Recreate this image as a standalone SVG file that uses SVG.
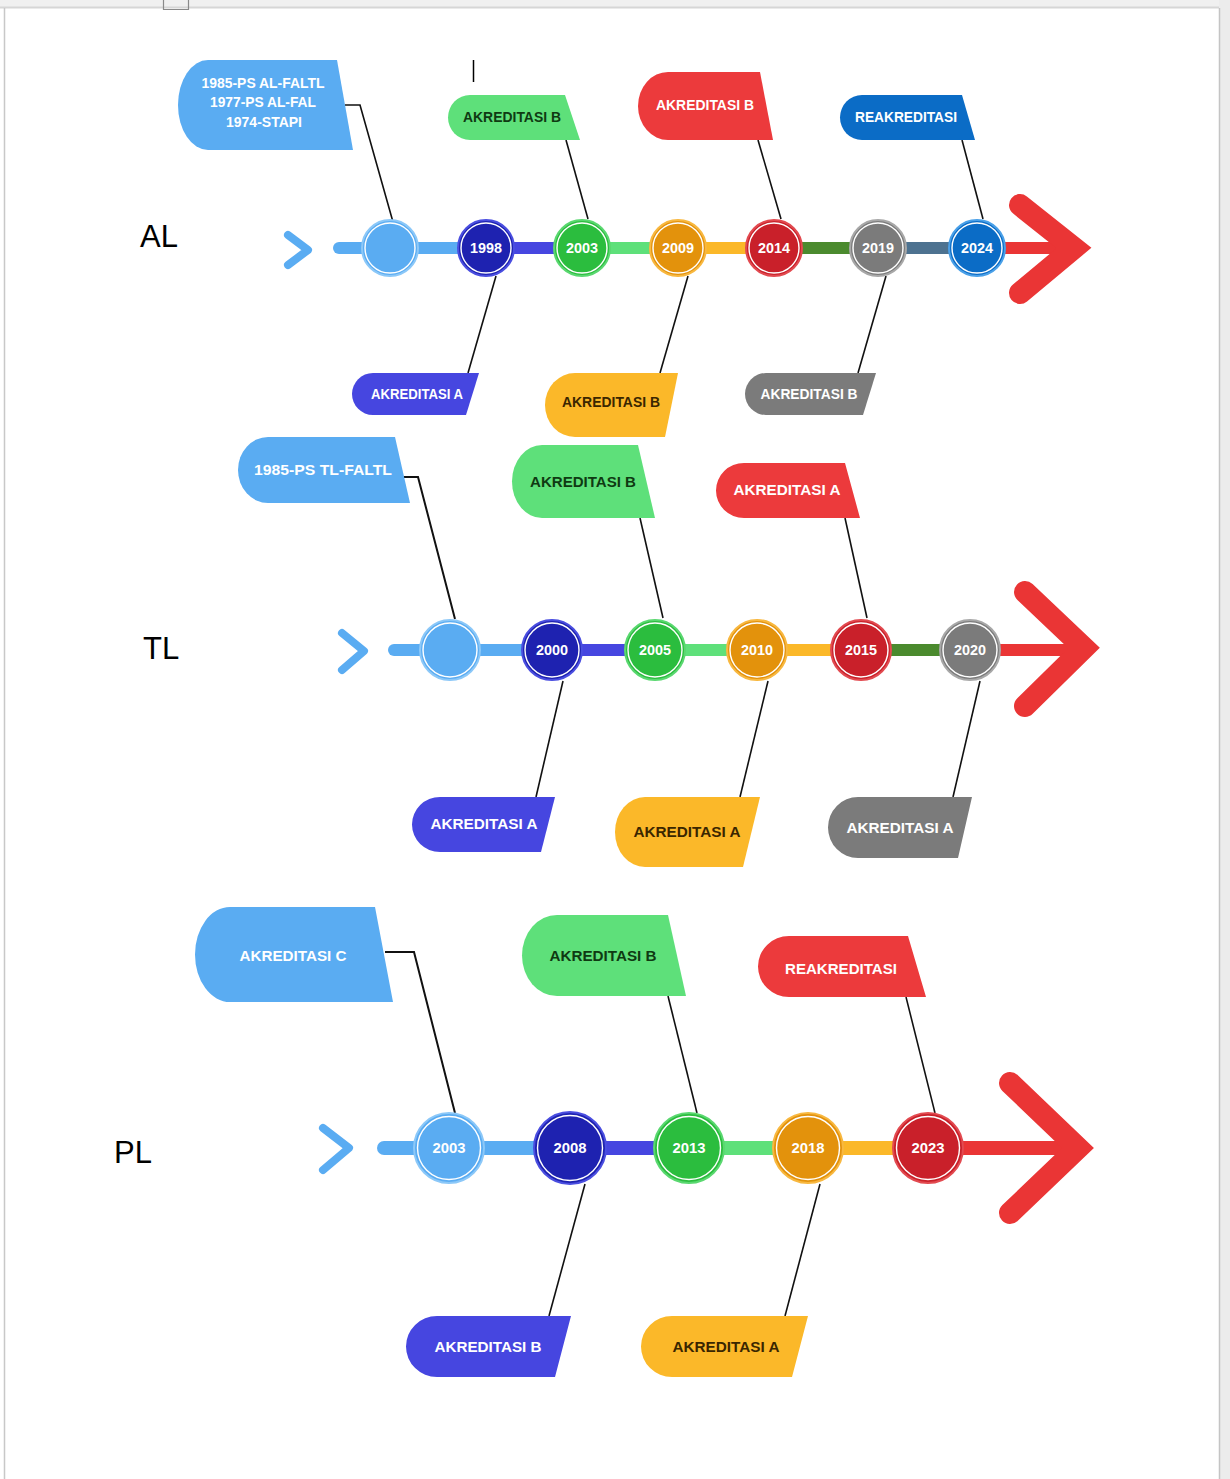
<svg xmlns="http://www.w3.org/2000/svg" width="1230" height="1479" viewBox="0 0 1230 1479">
<style>
.lbl{font-family:"Liberation Sans Narrow","Liberation Sans",Arial,sans-serif;font-weight:bold;font-size:14px;text-anchor:middle}
.w{fill:#ffffff}
.dg{fill:#0f3a12}
.dy{fill:#3a2600}
.yr{font-family:"Liberation Sans Narrow","Liberation Sans",Arial,sans-serif;font-weight:bold;font-size:14px;fill:#ffffff;text-anchor:middle}
.row{font-family:"Liberation Sans",Arial,sans-serif;font-size:31px;fill:#000000}
.con{fill:none;stroke:#111111;stroke-width:1.6}
.seg{stroke-width:12;fill:none}
.chev{fill:none;stroke:#5aacf2;stroke-width:8;stroke-linecap:round;stroke-linejoin:round}
.big{fill:none;stroke:#ea3535;stroke-width:22;stroke-linecap:round;stroke-linejoin:miter}
.ring{fill:none;stroke:#ffffff;stroke-width:1.4}
</style>
<rect x="0" y="0" width="1230" height="1479" fill="#ffffff"/>
<!-- page frame -->
<g id="page">
<rect x="0" y="0" width="1230" height="8" fill="#f0f0f0"/>
<line x1="0" y1="7.5" x2="1219" y2="7.5" stroke="#d6d6d6" stroke-width="2"/>
<line x1="4.5" y1="8" x2="4.5" y2="1479" stroke="#c8c8c8" stroke-width="1.5"/>
<rect x="1219" y="0" width="11" height="1479" fill="#ececec"/>
<line x1="1219.5" y1="8" x2="1219.5" y2="1479" stroke="#c4c4c4" stroke-width="1.5"/>
<path d="M163.5 0 V9.5 H188.5 V0" fill="none" stroke="#8a8a8a" stroke-width="1.2"/>
<line x1="473.5" y1="60" x2="473.5" y2="82" stroke="#000" stroke-width="1.5"/>
</g>

<g id="row-labels">
<text class="row" x="140" y="247">AL</text>
<text class="row" x="143" y="659">TL</text>
<text class="row" x="114" y="1163">PL</text>
</g>

<!-- connectors -->
<g id="connectors">
<polyline class="con" points="345,105 360,105 393,222"/>
<polyline class="con" points="566,140 588,219"/>
<polyline class="con" points="758,140 781,219"/>
<polyline class="con" points="962,140 983,219"/>
<polyline class="con" points="496,276 468,373"/>
<polyline class="con" points="688,276 660,373"/>
<polyline class="con" points="886,276 858,373"/>

<polyline class="con" points="404,477 418,477 455,619" style="stroke-width:2"/>
<polyline class="con" points="640,518 663,618"/>
<polyline class="con" points="845,518 867,618"/>
<polyline class="con" points="563,681 536,797"/>
<polyline class="con" points="768,681 740,797"/>
<polyline class="con" points="980,681 953,797"/>

<polyline class="con" points="385,952 414,952 455,1113" style="stroke-width:2"/>
<polyline class="con" points="668,996 697,1113"/>
<polyline class="con" points="906,997 935,1113"/>
<polyline class="con" points="585,1184 549,1316"/>
<polyline class="con" points="820,1184 785,1316"/>
</g>

<!-- AL timeline -->
<g id="al-line">
<polyline class="chev" points="288,235 308,250 288,265"/>
<line class="seg" x1="339" y1="248" x2="486" y2="248" stroke="#5aacf2" stroke-linecap="round"/>
<line class="seg" x1="486" y1="248" x2="582" y2="248" stroke="#4646e0"/>
<line class="seg" x1="582" y1="248" x2="678" y2="248" stroke="#5ee07a"/>
<line class="seg" x1="678" y1="248" x2="774" y2="248" stroke="#fbb829"/>
<line class="seg" x1="774" y1="248" x2="878" y2="248" stroke="#4b8a2e"/>
<line class="seg" x1="878" y1="248" x2="977" y2="248" stroke="#4d7290"/>
<line class="seg" x1="977" y1="248" x2="1070" y2="248" stroke="#ea3535"/>
<polyline class="big" points="1020,205 1074,248 1020,293"/>
</g>
<g id="al-c0"><circle cx="390" cy="248" r="28" fill="#5aacf2" stroke="#8cc8f8" stroke-width="2"/><circle class="ring" cx="390" cy="248" r="25"/></g>
<g id="al-c1998"><circle cx="486" cy="248" r="28" fill="#1e22b0" stroke="#4a4ee0" stroke-width="2"/><circle class="ring" cx="486" cy="248" r="25"/><text class="yr" x="486" y="253" textLength="32" lengthAdjust="spacingAndGlyphs">1998</text></g>
<g id="al-c2003"><circle cx="582" cy="248" r="28" fill="#2bbd3e" stroke="#5ad870" stroke-width="2"/><circle class="ring" cx="582" cy="248" r="25"/><text class="yr" x="582" y="253" textLength="32" lengthAdjust="spacingAndGlyphs">2003</text></g>
<g id="al-c2009"><circle cx="678" cy="248" r="28" fill="#e3920c" stroke="#f8b840" stroke-width="2"/><circle class="ring" cx="678" cy="248" r="25"/><text class="yr" x="678" y="253" textLength="32" lengthAdjust="spacingAndGlyphs">2009</text></g>
<g id="al-c2014"><circle cx="774" cy="248" r="28" fill="#c9202a" stroke="#e24a50" stroke-width="2"/><circle class="ring" cx="774" cy="248" r="25"/><text class="yr" x="774" y="253" textLength="32" lengthAdjust="spacingAndGlyphs">2014</text></g>
<g id="al-c2019"><circle cx="878" cy="248" r="28" fill="#7b7b7b" stroke="#a8a8a8" stroke-width="2"/><circle class="ring" cx="878" cy="248" r="25"/><text class="yr" x="878" y="253" textLength="32" lengthAdjust="spacingAndGlyphs">2019</text></g>
<g id="al-c2024"><circle cx="977" cy="248" r="28" fill="#0b6cc6" stroke="#4aa0e8" stroke-width="2"/><circle class="ring" cx="977" cy="248" r="25"/><text class="yr" x="977" y="253" textLength="32" lengthAdjust="spacingAndGlyphs">2024</text></g>

<!-- AL labels -->
<g id="al-t1"><path d="M208 60 H337 L353 150 H208 A30 45 0 0 1 208 60 Z" fill="#5aacf2"/>
<text class="lbl w" x="263" y="88" textLength="123" lengthAdjust="spacingAndGlyphs">1985-PS AL-FALTL</text>
<text class="lbl w" x="263" y="107" textLength="106" lengthAdjust="spacingAndGlyphs">1977-PS AL-FAL</text>
<text class="lbl w" x="264" y="127" textLength="76" lengthAdjust="spacingAndGlyphs">1974-STAPI</text></g>
<g id="al-t2"><path d="M470 95 H565 L580 140 H470 A22 22.5 0 0 1 470 95 Z" fill="#5ee07a"/><text class="lbl dg" x="512" y="122" textLength="98" lengthAdjust="spacingAndGlyphs">AKREDITASI B</text></g>
<g id="al-t3"><path d="M668 72 H760 L773 140 H668 A30 34 0 0 1 668 72 Z" fill="#ec3a3c"/><text class="lbl w" x="705" y="110" textLength="98" lengthAdjust="spacingAndGlyphs">AKREDITASI B</text></g>
<g id="al-t4"><path d="M862 95 H962 L975 140 H862 A22 22.5 0 0 1 862 95 Z" fill="#0b6cc6"/><text class="lbl w" x="906" y="122" textLength="102" lengthAdjust="spacingAndGlyphs">REAKREDITASI</text></g>
<g id="al-b1"><path d="M373 373 H479 L466 415 H373 A21 21 0 0 1 373 373 Z" fill="#4646e0"/><text class="lbl w" x="417" y="399" textLength="92" lengthAdjust="spacingAndGlyphs">AKREDITASI A</text></g>
<g id="al-b2"><path d="M575 373 H678 L665 437 H575 A30 32 0 0 1 575 373 Z" fill="#fbb829"/><text class="lbl dy" x="611" y="407" textLength="98" lengthAdjust="spacingAndGlyphs">AKREDITASI B</text></g>
<g id="al-b3"><path d="M766 373 H876 L863 415 H766 A21 21 0 0 1 766 373 Z" fill="#7b7b7b"/><text class="lbl w" x="809" y="399" textLength="97" lengthAdjust="spacingAndGlyphs">AKREDITASI B</text></g>

<!-- TL timeline -->
<g id="tl-line">
<polyline class="chev" points="342,633 364,651 342,670"/>
<line class="seg" x1="394" y1="650" x2="552" y2="650" stroke="#5aacf2" stroke-linecap="round"/>
<line class="seg" x1="552" y1="650" x2="655" y2="650" stroke="#4646e0"/>
<line class="seg" x1="655" y1="650" x2="757" y2="650" stroke="#5ee07a"/>
<line class="seg" x1="757" y1="650" x2="861" y2="650" stroke="#fbb829"/>
<line class="seg" x1="861" y1="650" x2="970" y2="650" stroke="#4b8a2e"/>
<line class="seg" x1="970" y1="650" x2="1080" y2="650" stroke="#ea3535"/>
<polyline class="big" points="1025,592 1084,648 1025,706"/>
</g>
<g id="tl-c0"><circle cx="450" cy="650" r="30" fill="#5aacf2" stroke="#8cc8f8" stroke-width="2"/><circle class="ring" cx="450" cy="650" r="27"/></g>
<g id="tl-c2000"><circle cx="552" cy="650" r="30" fill="#1e22b0" stroke="#4a4ee0" stroke-width="2"/><circle class="ring" cx="552" cy="650" r="27"/><text class="yr" x="552" y="655" textLength="32" lengthAdjust="spacingAndGlyphs">2000</text></g>
<g id="tl-c2005"><circle cx="655" cy="650" r="30" fill="#2bbd3e" stroke="#5ad870" stroke-width="2"/><circle class="ring" cx="655" cy="650" r="27"/><text class="yr" x="655" y="655" textLength="32" lengthAdjust="spacingAndGlyphs">2005</text></g>
<g id="tl-c2010"><circle cx="757" cy="650" r="30" fill="#e3920c" stroke="#f8b840" stroke-width="2"/><circle class="ring" cx="757" cy="650" r="27"/><text class="yr" x="757" y="655" textLength="32" lengthAdjust="spacingAndGlyphs">2010</text></g>
<g id="tl-c2015"><circle cx="861" cy="650" r="30" fill="#c9202a" stroke="#e24a50" stroke-width="2"/><circle class="ring" cx="861" cy="650" r="27"/><text class="yr" x="861" y="655" textLength="32" lengthAdjust="spacingAndGlyphs">2015</text></g>
<g id="tl-c2020"><circle cx="970" cy="650" r="30" fill="#7b7b7b" stroke="#a8a8a8" stroke-width="2"/><circle class="ring" cx="970" cy="650" r="27"/><text class="yr" x="970" y="655" textLength="32" lengthAdjust="spacingAndGlyphs">2020</text></g>

<!-- TL labels -->
<g id="tl-t1"><path d="M268 437 H395 L410 503 H268 A30 33 0 0 1 268 437 Z" fill="#5aacf2"/><text class="lbl w" x="323" y="475" textLength="138" lengthAdjust="spacingAndGlyphs">1985-PS TL-FALTL</text></g>
<g id="tl-t2"><path d="M542 445 H638 L655 518 H542 A30 36.5 0 0 1 542 445 Z" fill="#5ee07a"/><text class="lbl dg" x="583" y="487" textLength="106" lengthAdjust="spacingAndGlyphs">AKREDITASI B</text></g>
<g id="tl-t3"><path d="M744 463 H845 L860 518 H744 A28 27.5 0 0 1 744 463 Z" fill="#ec3a3c"/><text class="lbl w" x="787" y="495" textLength="107" lengthAdjust="spacingAndGlyphs">AKREDITASI A</text></g>
<g id="tl-b1"><path d="M440 797 H555 L541 852 H440 A28 27.5 0 0 1 440 797 Z" fill="#4646e0"/><text class="lbl w" x="484" y="829" textLength="107" lengthAdjust="spacingAndGlyphs">AKREDITASI A</text></g>
<g id="tl-b2"><path d="M645 797 H760 L743 867 H645 A30 35 0 0 1 645 797 Z" fill="#fbb829"/><text class="lbl dy" x="687" y="837" textLength="107" lengthAdjust="spacingAndGlyphs">AKREDITASI A</text></g>
<g id="tl-b3"><path d="M858 797 H972 L958 858 H858 A30 30.5 0 0 1 858 797 Z" fill="#7b7b7b"/><text class="lbl w" x="900" y="833" textLength="107" lengthAdjust="spacingAndGlyphs">AKREDITASI A</text></g>

<!-- PL timeline -->
<g id="pl-line">
<polyline class="chev" points="323,1128 349,1148 323,1170"/>
<line class="seg" x1="384" y1="1148" x2="570" y2="1148" stroke="#5aacf2" stroke-linecap="round" style="stroke-width:14"/>
<line class="seg" x1="570" y1="1148" x2="689" y2="1148" stroke="#4646e0" style="stroke-width:14"/>
<line class="seg" x1="689" y1="1148" x2="808" y2="1148" stroke="#5ee07a" style="stroke-width:14"/>
<line class="seg" x1="808" y1="1148" x2="928" y2="1148" stroke="#fbb829" style="stroke-width:14"/>
<line class="seg" x1="928" y1="1148" x2="1075" y2="1148" stroke="#ea3535" style="stroke-width:14"/>
<polyline class="big" points="1010,1083 1078,1148 1010,1213"/>
</g>
<g id="pl-c2003"><circle cx="449" cy="1148" r="35" fill="#5aacf2" stroke="#8cc8f8" stroke-width="2"/><circle class="ring" cx="449" cy="1148" r="31.5"/><text class="yr" x="449" y="1153" textLength="33" lengthAdjust="spacingAndGlyphs">2003</text></g>
<g id="pl-c2008"><circle cx="570" cy="1148" r="36" fill="#1e22b0" stroke="#4a4ee0" stroke-width="2"/><circle class="ring" cx="570" cy="1148" r="32.5"/><text class="yr" x="570" y="1153" textLength="33" lengthAdjust="spacingAndGlyphs">2008</text></g>
<g id="pl-c2013"><circle cx="689" cy="1148" r="35" fill="#2bbd3e" stroke="#5ad870" stroke-width="2"/><circle class="ring" cx="689" cy="1148" r="31.5"/><text class="yr" x="689" y="1153" textLength="33" lengthAdjust="spacingAndGlyphs">2013</text></g>
<g id="pl-c2018"><circle cx="808" cy="1148" r="35" fill="#e3920c" stroke="#f8b840" stroke-width="2"/><circle class="ring" cx="808" cy="1148" r="31.5"/><text class="yr" x="808" y="1153" textLength="33" lengthAdjust="spacingAndGlyphs">2018</text></g>
<g id="pl-c2023"><circle cx="928" cy="1148" r="35" fill="#c9202a" stroke="#e24a50" stroke-width="2"/><circle class="ring" cx="928" cy="1148" r="31.5"/><text class="yr" x="928" y="1153" textLength="33" lengthAdjust="spacingAndGlyphs">2023</text></g>

<!-- PL labels -->
<g id="pl-t1"><path d="M230 907 H375 L393 1002 H230 A35 47.5 0 0 1 230 907 Z" fill="#5aacf2"/><text class="lbl w" x="293" y="961" textLength="107" lengthAdjust="spacingAndGlyphs">AKREDITASI C</text></g>
<g id="pl-t2"><path d="M557 915 H668 L686 996 H557 A35 40.5 0 0 1 557 915 Z" fill="#5ee07a"/><text class="lbl dg" x="603" y="961" textLength="107" lengthAdjust="spacingAndGlyphs">AKREDITASI B</text></g>
<g id="pl-t3"><path d="M789 936 H908 L926 997 H789 A31 30.5 0 0 1 789 936 Z" fill="#ec3a3c"/><text class="lbl w" x="841" y="974" textLength="112" lengthAdjust="spacingAndGlyphs">REAKREDITASI</text></g>
<g id="pl-b1"><path d="M437 1316 H571 L555 1377 H437 A31 30.5 0 0 1 437 1316 Z" fill="#4646e0"/><text class="lbl w" x="488" y="1352" textLength="107" lengthAdjust="spacingAndGlyphs">AKREDITASI B</text></g>
<g id="pl-b2"><path d="M672 1316 H808 L792 1377 H672 A31 30.5 0 0 1 672 1316 Z" fill="#fbb829"/><text class="lbl dy" x="726" y="1352" textLength="107" lengthAdjust="spacingAndGlyphs">AKREDITASI A</text></g>
</svg>
